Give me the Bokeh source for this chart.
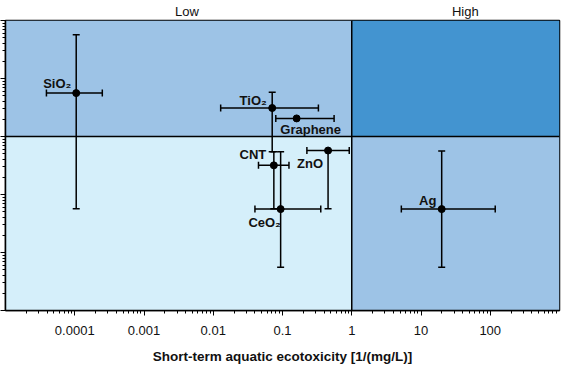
import numpy as np
from bokeh.plotting import figure
from bokeh.models import (ColumnDataSource, Whisker, TeeHead, BoxAnnotation, Span, LogAxis,
                          FixedTicker, PrintfTickFormatter, CustomJSTickFormatter, Range1d)
from bokeh.core.properties import value
from bokeh.embed import file_html
from bokeh.resources import INLINE

# ---------------- data ----------------
materials = ["SiO₂", "TiO₂", "Graphene", "CNT", "CeO₂", "ZnO", "Ag"]
ecotox = [1.05e-4, 0.071, 0.16, 0.075, 0.094, 0.455, 19.9]
ecotox_low = [3.9e-5, 0.0128, 0.080, 0.045, 0.040, 0.225, 5.2]
ecotox_high = [2.5e-4, 0.33, 0.556, 0.124, 0.357, 0.92, 118.0]
second = [5.6, 3.1, 2.05, 0.318, 0.056, 0.573, 0.056]
second_low = [0.0566, 0.546, None, 0.0566, 0.00555, 0.0566, 0.00555]
second_high = [57.0, 5.8, None, 0.546, 0.546, 0.573, 0.56]

x_tick_values = [1e-4, 1e-3, 1e-2, 1e-1, 1, 10, 100]
x_limits = (1e-5, 1e3)
y_limits = (1e-3, 1e2)
x_threshold = 1.0
y_threshold = 1.0
region_names = ["Low", "High"]

# ---------------- layout / style ----------------
label_dx = [-19, -19, 14, -21, -16, -18, -14]
label_dy = [-10, -8, 11, -11, 13, 13, -9]
region_label_x = [10 ** -2.38, 10 ** 1.64]
FONT = "Liberation Sans"

p = figure(width=562, height=366, x_axis_type="log", y_axis_type="log",
           x_range=Range1d(*x_limits), y_range=Range1d(*y_limits),
           output_backend="svg", toolbar_location=None,
           min_border_left=0, min_border_right=3, min_border_top=0, min_border_bottom=0)
p.background_fill_color = "white"
p.border_fill_color = "white"
p.grid.visible = False
p.outline_line_color = "black"
p.outline_line_width = 1.5

# quadrants
p.add_layout(BoxAnnotation(right=x_threshold, top=y_threshold, fill_color="#D5EFFA",
                           fill_alpha=1, line_alpha=0, level="underlay"))
p.add_layout(BoxAnnotation(right=x_threshold, bottom=y_threshold, fill_color="#9DC3E6",
                           fill_alpha=1, line_alpha=0, level="underlay"))
p.add_layout(BoxAnnotation(left=x_threshold, top=y_threshold, fill_color="#9DC3E6",
                           fill_alpha=1, line_alpha=0, level="underlay"))
p.add_layout(BoxAnnotation(left=x_threshold, bottom=y_threshold, fill_color="#4394D0",
                           fill_alpha=1, line_alpha=0, level="underlay"))
p.add_layout(Span(location=x_threshold, dimension="height", line_color="black", line_width=1.5))
p.add_layout(Span(location=y_threshold, dimension="width", line_color="black", line_width=1.5))

# error bars
src = ColumnDataSource(dict(x=ecotox, y=second, xl=ecotox_low, xh=ecotox_high,
                            name=materials, dx=label_dx, dy=label_dy))
p.add_layout(Whisker(source=src, base="y", lower="xl", upper="xh", dimension="width",
                     line_color="black", line_width=1.5,
                     upper_head=TeeHead(size=7, line_width=1.5, line_color="black"),
                     lower_head=TeeHead(size=7, line_width=1.5, line_color="black")))
idx = [i for i, v in enumerate(second_low) if v is not None]
ysrc = ColumnDataSource(dict(x=[ecotox[i] for i in idx],
                             yl=[second_low[i] for i in idx],
                             yh=[second_high[i] for i in idx]))
p.add_layout(Whisker(source=ysrc, base="x", lower="yl", upper="yh", dimension="height",
                     line_color="black", line_width=1.5,
                     upper_head=TeeHead(size=7, line_width=1.5, line_color="black"),
                     lower_head=TeeHead(size=7, line_width=1.5, line_color="black")))

p.scatter("x", "y", source=src, size=7, color="black")
p.text("x", "y", text="name", source=src, x_offset="dx", y_offset="dy",
       text_align="center", text_baseline="middle", text_font=value(FONT),
       text_font_style="bold", text_font_size="13px", text_color="#111111")

# region labels as a top axis
top_axis = LogAxis(ticker=FixedTicker(ticks=region_label_x, minor_ticks=[]),
                   formatter=CustomJSTickFormatter(
                       code="return tick < %r ? %r : %r;" % (x_threshold, region_names[0], region_names[1])))
top_axis.axis_line_color = None
top_axis.major_tick_line_color = None
top_axis.minor_tick_line_color = None
top_axis.major_tick_out = 0
top_axis.major_tick_in = 0
top_axis.minor_tick_out = 0
top_axis.minor_tick_in = 0
top_axis.major_label_standoff = 2
top_axis.major_label_text_font = FONT
top_axis.major_label_text_font_size = "13px"
top_axis.major_label_text_color = "#111111"
p.add_layout(top_axis, "above")

# bottom axis
bottom = p.below[0]
minor_x = [m * 10.0 ** e for e in range(-5, 3) for m in range(2, 10)]
bottom.ticker = FixedTicker(ticks=x_tick_values, minor_ticks=minor_x)
bottom.formatter = PrintfTickFormatter(format="%g")
bottom.axis_label = "Short-term aquatic ecotoxicity [1/(mg/L)]"
bottom.axis_label_text_font = FONT
bottom.axis_label_text_font_style = "bold"
bottom.axis_label_text_font_size = "13.5px"
bottom.axis_label_text_color = "#111111"
bottom.axis_label_standoff = 11
bottom.major_label_text_font = FONT
bottom.major_label_text_font_size = "13px"
bottom.major_label_text_color = "#111111"
bottom.major_label_standoff = 10

left = p.left[0]
minor_y = [m * 10.0 ** e for e in range(-3, 2) for m in range(2, 10)]
left.ticker = FixedTicker(ticks=[10.0 ** e for e in range(-3, 3)], minor_ticks=minor_y)
left.major_label_text_font_size = "1px"
left.major_label_text_alpha = 0
left.major_label_standoff = 0

for ax in (bottom, left):
    ax.axis_line_color = "black"
    ax.axis_line_width = 1.5
    ax.major_tick_line_color = "black"
    ax.minor_tick_line_color = "black"
    ax.major_tick_out = 5
    ax.major_tick_in = 0
    ax.minor_tick_out = 3
    ax.minor_tick_in = 0

open("out.html", "w").write(file_html(p, INLINE))
